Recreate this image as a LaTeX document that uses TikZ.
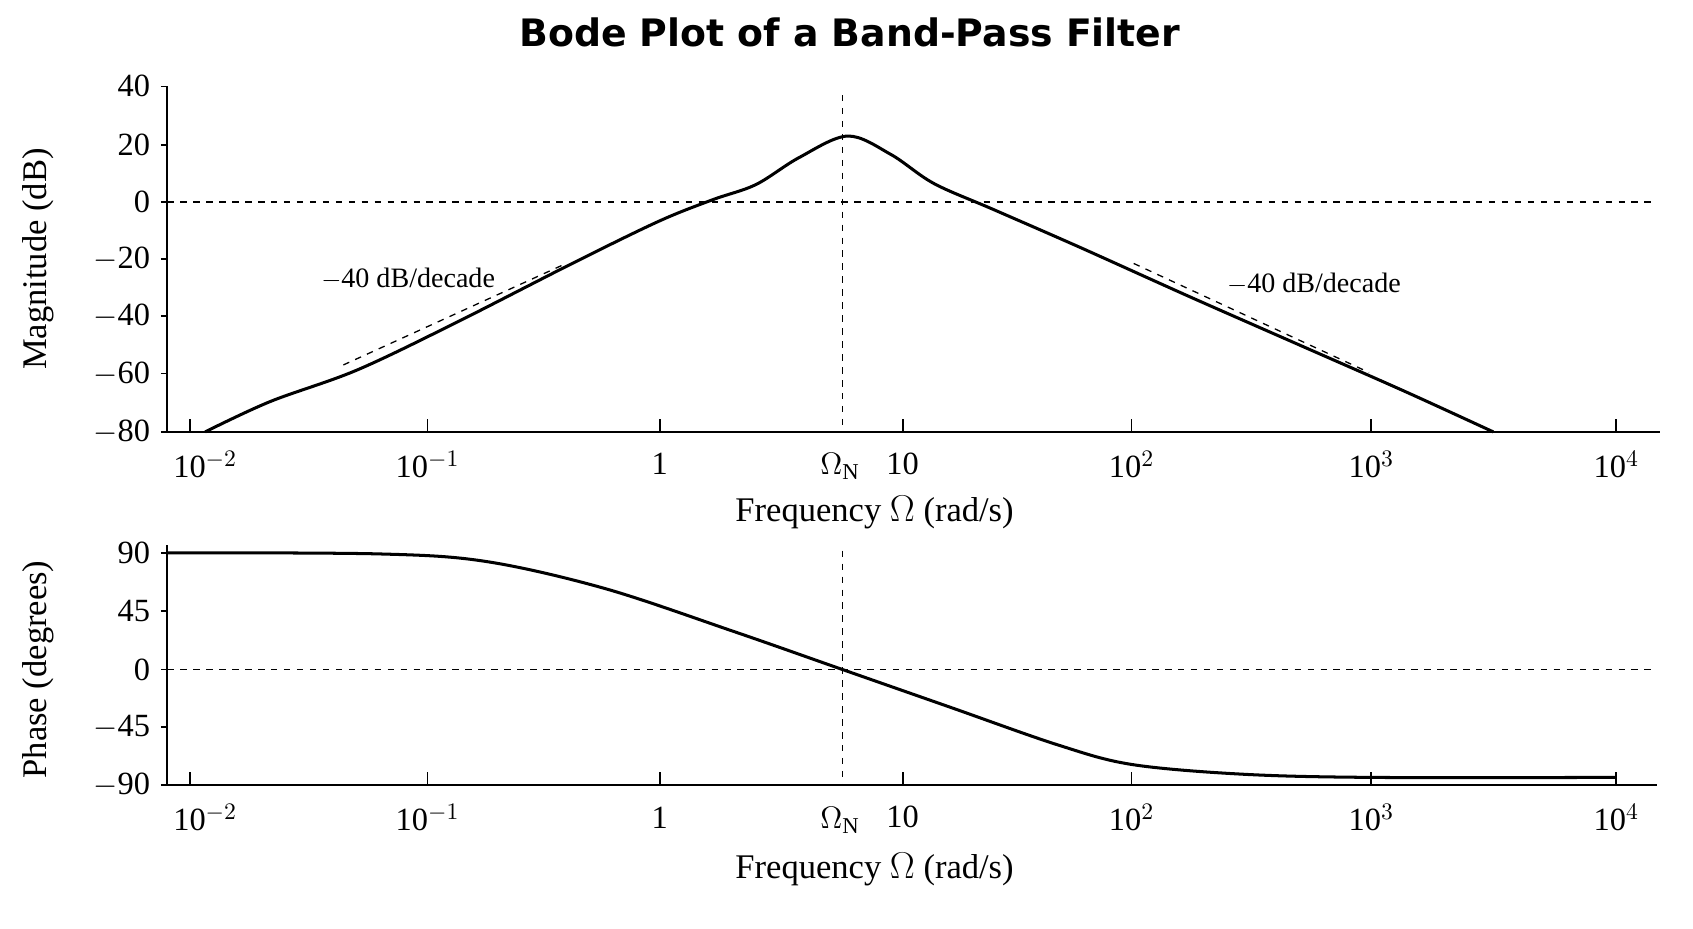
\documentclass[tikz,border=0pt]{standalone}
\usepackage{fontspec}
\setmainfont{Liberation Serif}
\newfontfamily\titlefont{DejaVu Sans}
\begin{document}
\begin{tikzpicture}[x=0.5pt,y=-0.5pt,
  tl/.style={font=\fontsize{15}{17}\selectfont},
  al/.style={font=\fontsize{16}{18}\selectfont},
  curve/.style={line width=1.4pt},
  ax/.style={line width=0.8pt},
  dsh/.style={dashed,line width=0.6pt}]
\useasboundingbox (0,0) rectangle (1568,860);
\node[font=\titlefont\bfseries\fontsize{17.5}{21}\selectfont] (title) at (787,30) {Bode Plot of a Band-Pass Filter};
% ---- top plot
\draw[ax] (155,80) -- (155,400) -- (1537,400);
\foreach \v/\y in {40/80,20/134,0/187,{$-$20}/240,{$-$40}/293,{$-$60}/346,{$-$80}/400}{
  \draw[ax] (149,\y) -- (155,\y);
  \node[tl,anchor=east] at (146,\y) {\v};}
\foreach \x/\lx/\l in {176/190/{10$^{-2}$},396/396/{10$^{-1}$},611/611/1,836/836/10,1048/1048/{10$^{2}$},1270/1270/{10$^{3}$},1497/1497/{10$^{4}$}}{
  \draw[ax] (\x,400) -- (\x,388);
  \node[tl] at (\lx,430) {\l};}
\node[tl] (wn1) at (778,432) {$\Omega_{\mathrm{N}}$};
\draw[dsh] (155,187) -- (1530,187);
\draw[dsh] (780,88) -- (780,400);
\draw[curve] plot[smooth,tension=0.55] coordinates {(190,400) (250,372) (330,343) (420,300) (530,244) (610,205) (660,185) (700,171) (740,146) (785,126) (825,143) (865,170) (920,194) (1000,229) (1100,274) (1200,318) (1300,362) (1383,400)};
\draw[dsh] (318,338) -- (520,246);
\draw[dsh] (1050,244) -- (1268,345);
\node[font=\fontsize{13}{15}\selectfont] (s1) at (378,258) {$-$40 dB/decade};
\node[font=\fontsize{13}{15}\selectfont] (s2) at (1217,263) {$-$40 dB/decade};
\node[al,rotate=90] (yl1) at (35,240) {Magnitude (dB)};
\node[al] (xl1) at (810,475) {Frequency $\Omega$ (rad/s)};
% ---- bottom plot
\draw[ax] (155,505) -- (155,727) -- (1535,727);
\foreach \v/\y in {90/512,45/566,0/620,{$-$45}/673,{$-$90}/727}{
  \draw[ax] (149,\y) -- (155,\y);
  \node[tl,anchor=east] at (146,\y) {\v};}
\foreach \x/\lx/\l in {176/190/{10$^{-2}$},396/396/{10$^{-1}$},611/611/1,836/836/10,1048/1048/{10$^{2}$},1270/1270/{10$^{3}$},1497/1497/{10$^{4}$}}{
  \draw[ax] (\x,727) -- (\x,715);
  \node[tl] at (\lx,757) {\l};}
\node[tl] (wn2) at (778,760) {$\Omega_{\mathrm{N}}$};
\draw[dsh] (155,620) -- (1530,620);
\draw[dsh] (780,510) -- (780,727);
\draw[curve] plot[smooth,tension=0.55] coordinates {(155,512) (350,513) (450,520) (560,545) (680,585) (780,620) (880,655) (980,690) (1048,708) (1150,717) (1270,720) (1497,720)};
\node[al,rotate=90] (yl2) at (35,620) {Phase (degrees)};
\node[al] (xl2) at (810,805) {Frequency $\Omega$ (rad/s)};
\end{tikzpicture}
\end{document}
